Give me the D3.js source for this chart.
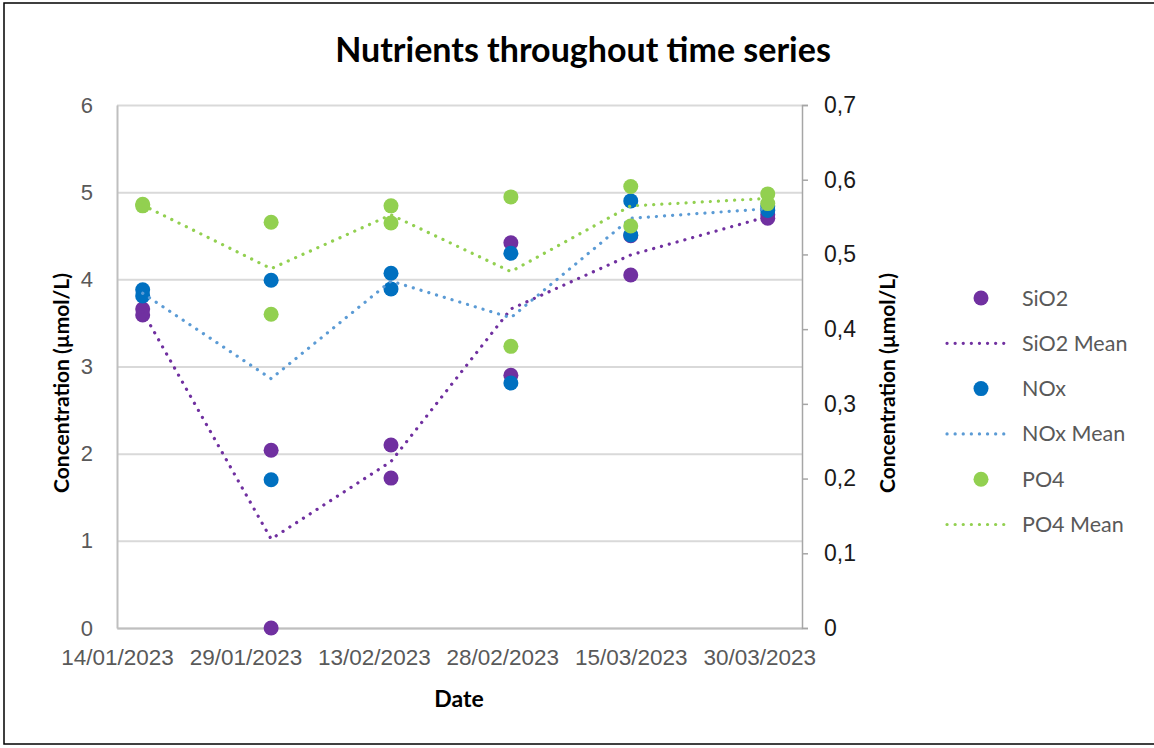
<!DOCTYPE html>
<html>
<head>
<meta charset="utf-8">
<script src="https://cdn.jsdelivr.net/npm/d3@7"></script>
<style>
  body { margin: 0; background: #fff; }
  svg { display: block; font-family: Lato, "Open Sans", sans-serif; }
</style>
</head>
<body>
<div class="chart"></div>
<script>
// sample dates (two replicates per sampling day)
var sampleDates = ["2023-01-17", "2023-01-17", "2023-02-01", "2023-02-01", "2023-02-15", "2023-02-15",
  "2023-03-01", "2023-03-01", "2023-03-15", "2023-03-15", "2023-03-31", "2023-03-31"];
var sio2Values = [3.66, 3.59, 2.04, 0.00, 2.10, 1.72, 4.42, 2.90, 4.05, 4.50, 4.74, 4.70];
var noxValues = [3.88, 3.81, 3.99, 1.70, 4.07, 3.89, 4.30, 2.81, 4.90, 4.51, 4.84, 4.79];
var po4Values = [0.567, 0.565, 0.543, 0.420, 0.565, 0.542, 0.577, 0.377, 0.591, 0.538, 0.581, 0.568];

// mean per sampling day
var meanDates = ["2023-01-17", "2023-02-01", "2023-02-15", "2023-03-01", "2023-03-15", "2023-03-31"];
var sio2Mean = [3.63, 1.02, 1.91, 3.66, 4.28, 4.72];
var noxMean = [3.84, 2.86, 3.98, 3.56, 4.70, 4.81];
var po4Mean = [0.566, 0.481, 0.553, 0.477, 0.565, 0.575];

var xTicks = ["2023-01-14", "2023-01-29", "2023-02-13", "2023-02-28", "2023-03-15", "2023-03-30"];
var xDomain = ["2023-01-14", "2023-04-04"];
var leftTicks = [0, 1, 2, 3, 4, 5, 6];
var rightTicks = [0, 0.1, 0.2, 0.3, 0.4, 0.5, 0.6, 0.7];

var svgWidth = 1154;
var svgHeight = 748;
var plot = { left: 117, right: 802, top: 105, bottom: 628 };

var parse = d3.timeParse("%Y-%m-%d");

var svg = d3.select(".chart")
  .append("svg")
  .attr("width", svgWidth)
  .attr("height", svgHeight);

// outer chart frame
svg.append("rect")
  .attr("x", 4).attr("y", 3)
  .attr("width", 1170).attr("height", 741)
  .attr("fill", "none")
  .attr("stroke", "#000")
  .attr("stroke-width", 1.5);

var x = d3.scaleTime()
  .domain(xDomain.map(parse))
  .range([plot.left, plot.right]);

var yLeft = d3.scaleLinear()
  .domain([0, 6])
  .range([plot.bottom, plot.top]);

var yRight = d3.scaleLinear()
  .domain([0, 0.7])
  .range([plot.bottom, plot.top]);

// gridlines
svg.append("g")
  .attr("transform", `translate(${plot.left},0)`)
  .call(d3.axisLeft(yLeft).tickValues(leftTicks).tickSize(-(plot.right - plot.left)).tickFormat(""))
  .call(g => g.select(".domain").remove())
  .call(g => g.selectAll("line").attr("stroke", "#d9d9d9").attr("stroke-width", 2));

// left axis
var leftAxis = svg.append("g")
  .attr("transform", `translate(${plot.left},0)`)
  .call(d3.axisLeft(yLeft).tickValues(leftTicks).tickSize(0).tickPadding(24).tickFormat(d3.format("d")));
leftAxis.select(".domain").attr("stroke", "#bfbfbf").attr("stroke-width", 2);
leftAxis.selectAll("text").attr("fill", "#595959").style("font-size", "22px");

// bottom axis
var bottomAxis = svg.append("g")
  .attr("transform", `translate(0,${plot.bottom})`)
  .call(d3.axisBottom(x).tickValues(xTicks.map(parse)).tickSize(0).tickPadding(21)
    .tickFormat(d3.timeFormat("%d/%m/%Y")));
bottomAxis.select(".domain").attr("stroke", "#bfbfbf").attr("stroke-width", 2);
bottomAxis.selectAll("text").attr("fill", "#595959").style("font-size", "22.5px");

// right axis
var rightAxis = svg.append("g")
  .attr("transform", `translate(${plot.right},0)`)
  .call(d3.axisRight(yRight).tickValues(rightTicks).tickSize(6).tickPadding(16)
    .tickFormat(d => d === 0 ? "0" : d3.format(".1f")(d).replace(".", ",")));
rightAxis.select(".domain").attr("stroke", "#a6a6a6").attr("stroke-width", 1.5);
rightAxis.selectAll("line").attr("stroke", "#a6a6a6").attr("stroke-width", 1.5);
rightAxis.selectAll("text").attr("fill", "#1a1a1a").style("font-size", "23px");

// series
var series = [
  { name: "SiO2", values: sio2Values, mean: sio2Mean, y: yLeft, color: "#7030a0", meanColor: "#7030a0" },
  { name: "NOx", values: noxValues, mean: noxMean, y: yLeft, color: "#0070c0", meanColor: "#5b9bd5" },
  { name: "PO4", values: po4Values, mean: po4Mean, y: yRight, color: "#92d050", meanColor: "#92d050" }
];

series.forEach(function(s) {
  svg.append("g")
    .selectAll("circle")
    .data(s.values)
    .enter()
    .append("circle")
    .attr("cx", (d, i) => x(parse(sampleDates[i])))
    .attr("cy", d => s.y(d))
    .attr("r", 7.5)
    .attr("fill", s.color);

  var line = d3.line()
    .x((d, i) => x(parse(meanDates[i])))
    .y(d => s.y(d));

  svg.append("path")
    .datum(s.mean)
    .attr("d", line)
    .attr("fill", "none")
    .attr("stroke", s.meanColor)
    .attr("stroke-width", 3.2)
    .attr("stroke-linecap", "round")
    .attr("stroke-dasharray", "0.1 8");
});

// title
svg.append("text")
  .attr("x", 583)
  .attr("y", 62)
  .attr("text-anchor", "middle")
  .style("font-size", "34px")
  .style("font-weight", "bold")
  .attr("fill", "#000")
  .text("Nutrients throughout time series");

// axis titles
svg.append("text")
  .attr("transform", "translate(69,383) rotate(-90)")
  .attr("text-anchor", "middle")
  .style("font-size", "21px")
  .style("font-weight", "bold")
  .text("Concentration (µmol/L)");

svg.append("text")
  .attr("transform", "translate(895,383) rotate(-90)")
  .attr("text-anchor", "middle")
  .style("font-size", "21px")
  .style("font-weight", "bold")
  .text("Concentration (µmol/L)");

svg.append("text")
  .attr("x", 459)
  .attr("y", 707)
  .attr("text-anchor", "middle")
  .style("font-size", "23px")
  .style("font-weight", "bold")
  .text("Date");

// legend
var legendItems = [];
series.forEach(function(s) {
  legendItems.push({ label: s.name, type: "dot", color: s.color });
  legendItems.push({ label: s.name + " Mean", type: "line", color: s.meanColor });
});

var legend = svg.append("g")
  .selectAll("g")
  .data(legendItems)
  .enter()
  .append("g")
  .attr("transform", (d, i) => `translate(0,${298 + i * 45.3})`);

legend.filter(d => d.type === "dot")
  .append("circle")
  .attr("cx", 981)
  .attr("cy", 0)
  .attr("r", 7.5)
  .attr("fill", d => d.color);

legend.filter(d => d.type === "line")
  .append("line")
  .attr("x1", 947).attr("x2", 1011)
  .attr("y1", 0).attr("y2", 0)
  .attr("stroke", d => d.color)
  .attr("stroke-width", 3.2)
  .attr("stroke-linecap", "round")
  .attr("stroke-dasharray", "0.1 8");

legend.append("text")
  .attr("x", 1022)
  .attr("y", 0)
  .attr("dy", "0.35em")
  .attr("fill", "#595959")
  .style("font-size", "21.5px")
  .text(d => d.label);
</script>
</body>
</html>
